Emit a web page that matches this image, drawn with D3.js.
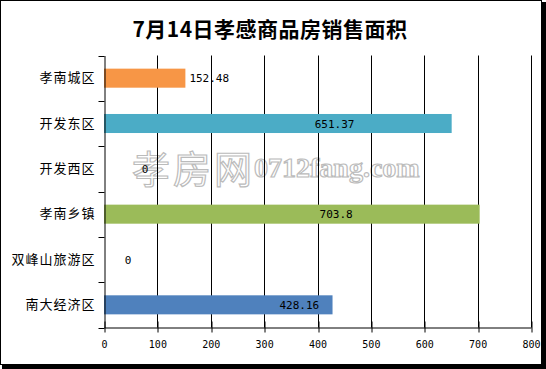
<!DOCTYPE html>
<html>
<head>
<meta charset="utf-8">
<script src="https://cdn.jsdelivr.net/npm/d3@7"></script>
<style>
  body { margin: 0; background: #fff; }
  text { font-family: "Noto Sans CJK SC", sans-serif; }
  .num { font-family: "DejaVu Sans Mono", monospace; font-size: 11px; }
  .tick .num { font-size: 10px; }
</style>
</head>
<body>
<div id="chart"></div>
<script>
// data, top to bottom
let categories = ['孝南城区', '开发东区', '开发西区', '孝南乡镇', '双峰山旅游区', '南大经济区'];
let values = [152.48, 651.37, 0, 703.8, 0, 428.16];
let barColors = ['#F79646', '#4BACC6', '#4BACC6', '#9BBB59', '#4F81BD', '#4F81BD'];
let xTicks = [0, 100, 200, 300, 400, 500, 600, 700, 800];
let title = '7月14日孝感商品房销售面积';
let watermark = ['孝房网', '0712fang.com'];

let width = 546, height = 369;

let svg = d3.select('#chart')
  .append('svg')
  .attr('width', width)
  .attr('height', height);

// frame with dark shadow on the right / bottom
svg.append('rect')
  .attr('x', 2).attr('y', 2)
  .attr('width', width - 2).attr('height', height - 2)
  .attr('fill', '#000');
svg.append('rect')
  .attr('x', 0.5).attr('y', 0.5)
  .attr('width', width - 5).attr('height', height - 5)
  .attr('fill', '#fff')
  .attr('stroke', '#000');

svg.append('text')
  .attr('x', 270)
  .attr('y', 37)
  .attr('text-anchor', 'middle')
  .style('font-size', '21px')
  .style('font-weight', 'bold')
  .style('letter-spacing', '0.5px')
  .text(title);

let x = d3.scaleLinear().domain([0, 800]).range([104, 531]);
let y = d3.scaleBand().domain(categories).range([55.5, 327.5]);
let barH = y.bandwidth() * 0.42;

// watermark
let wm = svg.append('g').attr('fill', '#fff').attr('stroke', '#bbb').attr('stroke-width', 1.2);
wm.append('text')
  .attr('x', 132).attr('y', 183)
  .style('font-size', '38px')
  .style('letter-spacing', '3px')
  .text(watermark[0]);
wm.append('text')
  .attr('x', 254).attr('y', 177)
  .style('font-family', '"Liberation Serif", serif')
  .style('font-size', '28px')
  .style('font-weight', 'bold')
  .text(watermark[1]);

// vertical grid lines
svg.append('g')
  .selectAll('line')
  .data(xTicks.slice(1))
  .enter()
  .append('line')
  .attr('x1', d => Math.round(x(d)) + 0.5)
  .attr('x2', d => Math.round(x(d)) + 0.5)
  .attr('y1', 55.5)
  .attr('y2', 327.5)
  .attr('stroke', '#000');

// bars
svg.append('g')
  .selectAll('rect')
  .data(values)
  .enter()
  .append('rect')
  .attr('x', x(0))
  .attr('y', (d, i) => y(categories[i]) + (y.bandwidth() - barH) / 2)
  .attr('width', d => x(d) - x(0))
  .attr('height', barH)
  .attr('fill', (d, i) => barColors[i]);

// value labels - Excel placed these a bit oddly, anchor values
let labelAt = [152.48, 432, 77, 435, 45, 366];
svg.append('g')
  .selectAll('text')
  .data(values)
  .enter()
  .append('text')
  .attr('class', 'num')
  .attr('x', (d, i) => i === 0 ? x(labelAt[i]) + 4 : x(labelAt[i]))
  .attr('y', (d, i) => y(categories[i]) + y.bandwidth() / 2 + 4)
  .attr('text-anchor', (d, i) => i === 0 ? 'start' : 'middle')
  .attr('fill', '#000')
  .text(d => d);

// y axis
let yAxis = svg.append('g')
  .attr('transform', 'translate(104.5,0)')
  .call(d3.axisLeft(y).tickSize(0).tickPadding(9));
yAxis.select('.domain').attr('stroke', '#000');
yAxis.selectAll('text').style('font-size', '13px').style('letter-spacing', '1px')
  .attr('font-family', null);
yAxis.selectAll('.ytick')
  .data(d3.range(categories.length + 1))
  .enter()
  .append('line')
  .attr('class', 'ytick')
  .attr('x1', -6).attr('x2', 0)
  .attr('y1', i => Math.round(55.5 + i * y.step()) + 0.5)
  .attr('y2', i => Math.round(55.5 + i * y.step()) + 0.5)
  .attr('stroke', '#000');

// x axis, ticks cross the line
let xAxis = svg.append('g')
  .attr('transform', 'translate(0,327.5)')
  .call(d3.axisBottom(x).tickValues(xTicks).tickSizeInner(5).tickSizeOuter(0).tickPadding(8));
xAxis.select('.domain').attr('stroke', '#000');
xAxis.selectAll('.tick line').attr('y1', -6).attr('stroke', '#000')
  .attr('transform', d => 'translate(' + (Math.round(x(d)) + 0.5 - x(d)) + ',0)');
xAxis.selectAll('text').attr('class', 'num').attr('font-family', null).attr('fill', '#000');
</script>
</body>
</html>
